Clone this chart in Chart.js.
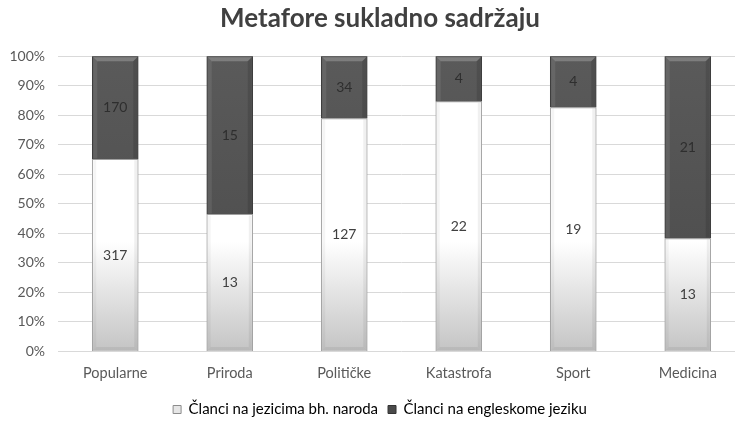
<!DOCTYPE html>
<html>
<head>
<meta charset="utf-8">
<script src="https://cdn.jsdelivr.net/npm/chart.js@4/dist/chart.umd.min.js"></script>
<style>
    html, body { margin: 0; padding: 0; background: #fff; overflow: hidden; }
    /* the original chart was a bit wider than the picture and cut on the right */
    #wrap { width: 762px; height: 421px; }
</style>
</head>
<body>
<div id="wrap"><canvas id="myChart"></canvas></div>
<script>
var categories = ["Popularne", "Priroda", "Političke", "Katastrofa", "Sport", "Medicina"];
var bhCounts = [317, 13, 127, 22, 19, 13];
var enCounts = [170, 15, 34, 4, 4, 21];
var seriesNames = ["Članci na jezicima bh. naroda", "Članci na engleskome jeziku"];

// 100% stacked: share of each category
function share(a, b) {
    return a.map(function (v, i) { return v / (a[i] + b[i]) * 100; });
}
var bhShare = share(bhCounts, enCounts);
var enShare = share(enCounts, bhCounts);

var font = "Lato, 'Open Sans', sans-serif";

function lightFill(ctx) {
    var area = ctx.chart.chartArea;
    if (!area) return '#fff';
    var g = ctx.chart.ctx.createLinearGradient(0, area.bottom, 0, area.bottom - 110);
    g.addColorStop(0, '#c4c4c4');
    g.addColorStop(1, '#ffffff');
    return g;
}

function darkFill(ctx) {
    var area = ctx.chart.chartArea;
    if (!area) return '#555';
    var g = ctx.chart.ctx.createLinearGradient(0, area.top, 0, area.bottom);
    g.addColorStop(0, '#5a5a5a');
    g.addColorStop(1, '#4a4a4a');
    return g;
}

function quad(c, pts, color) {
    c.beginPath();
    c.moveTo(pts[0], pts[1]);
    for (var k = 2; k < pts.length; k += 2) c.lineTo(pts[k], pts[k + 1]);
    c.closePath();
    c.fillStyle = color;
    c.fill();
}

// soft bevel like the excel bars
var bevelPlugin = {
    id: 'bevel',
    afterDatasetsDraw: function (chart) {
        var c = chart.ctx, b = 4;
        c.save();
        chart.data.datasets.forEach(function (ds, di) {
            chart.getDatasetMeta(di).data.forEach(function (bar) {
                var p = bar.getProps(['x', 'y', 'base', 'width'], true);
                var l = p.x - p.width / 2 + 1, r = p.x + p.width / 2 - 1;
                var t = p.y + 1, bt = p.base - 1;
                if (di === 1) {
                    quad(c, [l, t, r, t, r - b, t + b, l + b, t + b], 'rgba(255,255,255,0.22)');
                    quad(c, [l, t, l + b, t + b, l + b, bt, l, bt], 'rgba(255,255,255,0.08)');
                    quad(c, [r, t, r - b, t + b, r - b, bt, r, bt], 'rgba(0,0,0,0.12)');
                } else {
                    quad(c, [l, t, l + 3, t, l + 3, bt - 3, l, bt], 'rgba(0,0,0,0.04)');
                    quad(c, [r, t, r - 3, t, r - 3, bt - 3, r, bt], 'rgba(0,0,0,0.06)');
                    quad(c, [l, bt, l + 3, bt - 3, r - 3, bt - 3, r, bt], 'rgba(0,0,0,0.06)');
                }
            });
        });
        c.restore();
    }
};

var counts = [bhCounts, enCounts];
var labelPlugin = {
    id: 'counts',
    afterDatasetsDraw: function (chart) {
        var c = chart.ctx;
        c.save();
        c.textAlign = 'center';
        c.textBaseline = 'middle';
        chart.data.datasets.forEach(function (ds, di) {
            chart.getDatasetMeta(di).data.forEach(function (bar, i) {
                var p = bar.getProps(['x', 'y', 'base'], true);
                c.font = '14px ' + font;
                c.fillStyle = di === 0 ? '#404040' : '#2e2e2e';
                c.fillText(counts[di][i], p.x, (p.y + p.base) / 2);
            });
        });
        c.restore();
    }
};

var ctx = document.getElementById('myChart').getContext('2d');
var chart = new Chart(ctx, {
    type: 'bar',
    data: {
        labels: categories,
        datasets: [{
            label: seriesNames[0],
            data: bhShare,
            backgroundColor: lightFill,
            borderColor: '#a0a0a0',
            borderWidth: 1,
            barThickness: 46
        }, {
            label: seriesNames[1],
            data: enShare,
            backgroundColor: darkFill,
            borderColor: '#3c3c3c',
            borderWidth: 1,
            barThickness: 46
        }]
    },
    plugins: [bevelPlugin, labelPlugin],
    options: {
        responsive: true,
        maintainAspectRatio: false,
        animation: false,
        layout: { padding: { left: 15, right: 17, top: 0, bottom: -6 } },
        plugins: {
            title: {
                display: true,
                text: 'Metafore sukladno sadržaju',
                color: '#404040',
                font: { family: font, size: 26, weight: 'bold' },
                padding: { top: 3, bottom: 22 }
            },
            legend: {
                position: 'bottom',
                labels: {
                    color: '#595959',
                    font: { family: font, size: 15 },
                    boxWidth: 8,
                    boxHeight: 8,
                    padding: 10,
                    generateLabels: function (chart) {
                        return seriesNames.map(function (n, i) {
                            return {
                                text: n,
                                fillStyle: i === 0 ? '#e6e6e6' : '#4a4a4a',
                                strokeStyle: i === 0 ? '#8c8c8c' : '#333',
                                lineWidth: 1,
                                datasetIndex: i
                            };
                        });
                    }
                }
            },
            tooltip: { enabled: false }
        },
        scales: {
            x: {
                stacked: true,
                grid: { display: false },
                border: { display: false },
                ticks: {
                    color: '#595959',
                    font: { family: font, size: 14.5 },
                    padding: 5
                },
                afterFit: function (s) { s.height = 40.5; }
            },
            y: {
                stacked: true,
                min: 0,
                max: 100,
                grid: { color: '#d9d9d9', drawTicks: false },
                border: { display: false },
                ticks: {
                    stepSize: 10,
                    color: '#595959',
                    font: { family: font, size: 14 },
                    padding: 13,
                    callback: function (v) { return v + '%'; }
                },
                afterFit: function (s) {
                    s.width = 43;
                    // labels may run into the left padding, don't clip them
                    s._computeLabelArea = function () { return undefined; };
                }
            }
        }
    }
});
</script>
</body>
</html>
